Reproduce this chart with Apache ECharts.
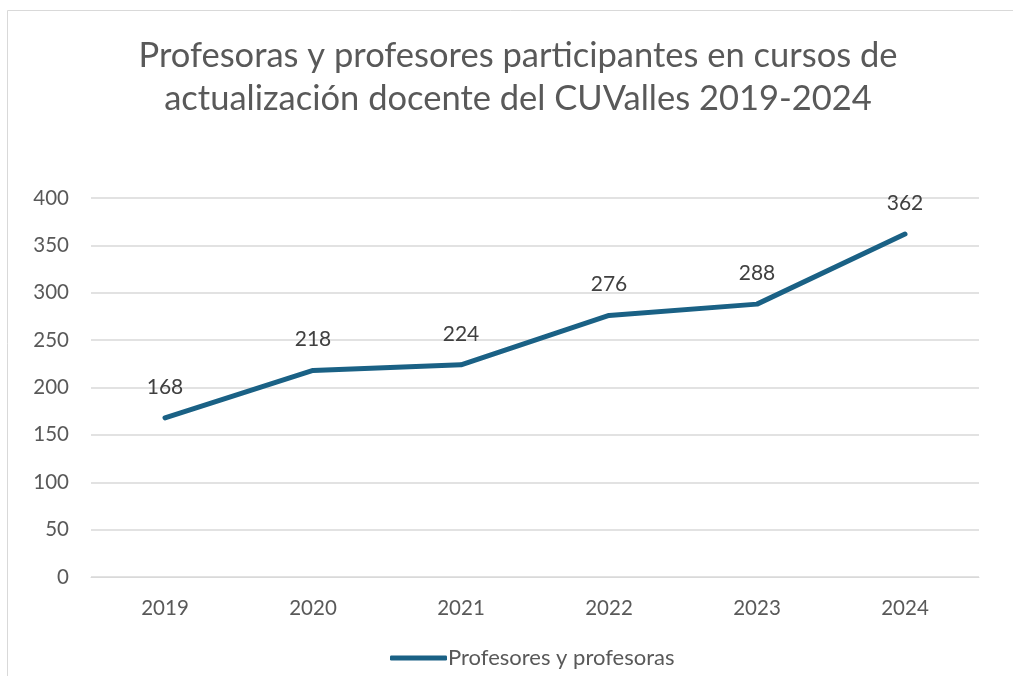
<!DOCTYPE html>
<html>
<head>
<meta charset="utf-8">
<script src="https://cdn.jsdelivr.net/npm/echarts@6/dist/echarts.min.js"></script>
<style>
  html, body { margin: 0; padding: 0; background: #fff; }
  #chart { width: 1013px; height: 676px; }
</style>
</head>
<body>
<div id="chart"></div>
<script>
// datos
var years = ['2019', '2020', '2021', '2022', '2023', '2024']
var participantes = [168, 218, 224, 276, 288, 362]
var seriesName = 'Profesores y profesoras'
var titleText = 'Profesoras y profesores participantes en cursos de\nactualización docente del CUValles 2019-2024'

var font = 'Lato, "Open Sans", sans-serif'
var lineColor = '#1a6185'
var mychart = echarts.init(document.getElementById('chart'))

mychart.setOption({
  animation: false,
  textStyle: { fontFamily: font },
  graphic: [
    // marco del area de grafica (solo borde izquierdo y superior visibles)
    { type: 'line', shape: { x1: 7.5, y1: 10.5, x2: 1013, y2: 10.5 }, style: { stroke: '#d9d9d9', lineWidth: 1 } },
    { type: 'line', shape: { x1: 7.5, y1: 10.5, x2: 7.5, y2: 676 }, style: { stroke: '#d9d9d9', lineWidth: 1 } }
  ],
  title: {
    text: titleText,
    left: 513,
    textAlign: 'center',
    top: 29,
    textStyle: { fontFamily: font, fontSize: 34.5, fontWeight: 'normal', color: '#595959', lineHeight: 43 }
  },
  legend: {
    top: 642,
    left: 385,
    itemWidth: 57,
    itemHeight: 5,
    itemGap: 5,
    icon: 'roundRect',
    data: [{ name: seriesName, itemStyle: { color: lineColor } }],
    textStyle: { fontFamily: font, fontSize: 22, color: '#595959', padding: [0, 0, 0, -4] }
  },
  grid: { left: 91, right: 34, top: 198, bottom: 99, containLabel: false },
  xAxis: {
    type: 'category',
    data: years,
    boundaryGap: true,
    axisLine: { show: true, lineStyle: { color: '#d9d9d9', width: 1 } },
    axisTick: { show: false },
    axisLabel: { fontFamily: font, fontSize: 20.5, color: '#595959', margin: 21 }
  },
  yAxis: {
    type: 'value',
    min: 0,
    max: 400,
    interval: 50,
    axisLine: { show: false },
    axisTick: { show: false },
    axisLabel: { fontFamily: font, fontSize: 20.5, color: '#595959', margin: 22 },
    splitLine: { lineStyle: { color: '#d9d9d9', width: 1.5 } }
  },
  series: [{
    name: seriesName,
    type: 'line',
    data: participantes,
    symbol: 'circle',
    symbolSize: 3,
    showSymbol: true,
    lineStyle: { color: lineColor, width: 5, cap: 'round', join: 'round' },
    itemStyle: { color: lineColor },
    label: {
      show: true,
      position: 'top',
      distance: 19,
      fontFamily: font,
      fontSize: 21,
      color: '#404040'
    }
  }]
})
</script>
</body>
</html>
